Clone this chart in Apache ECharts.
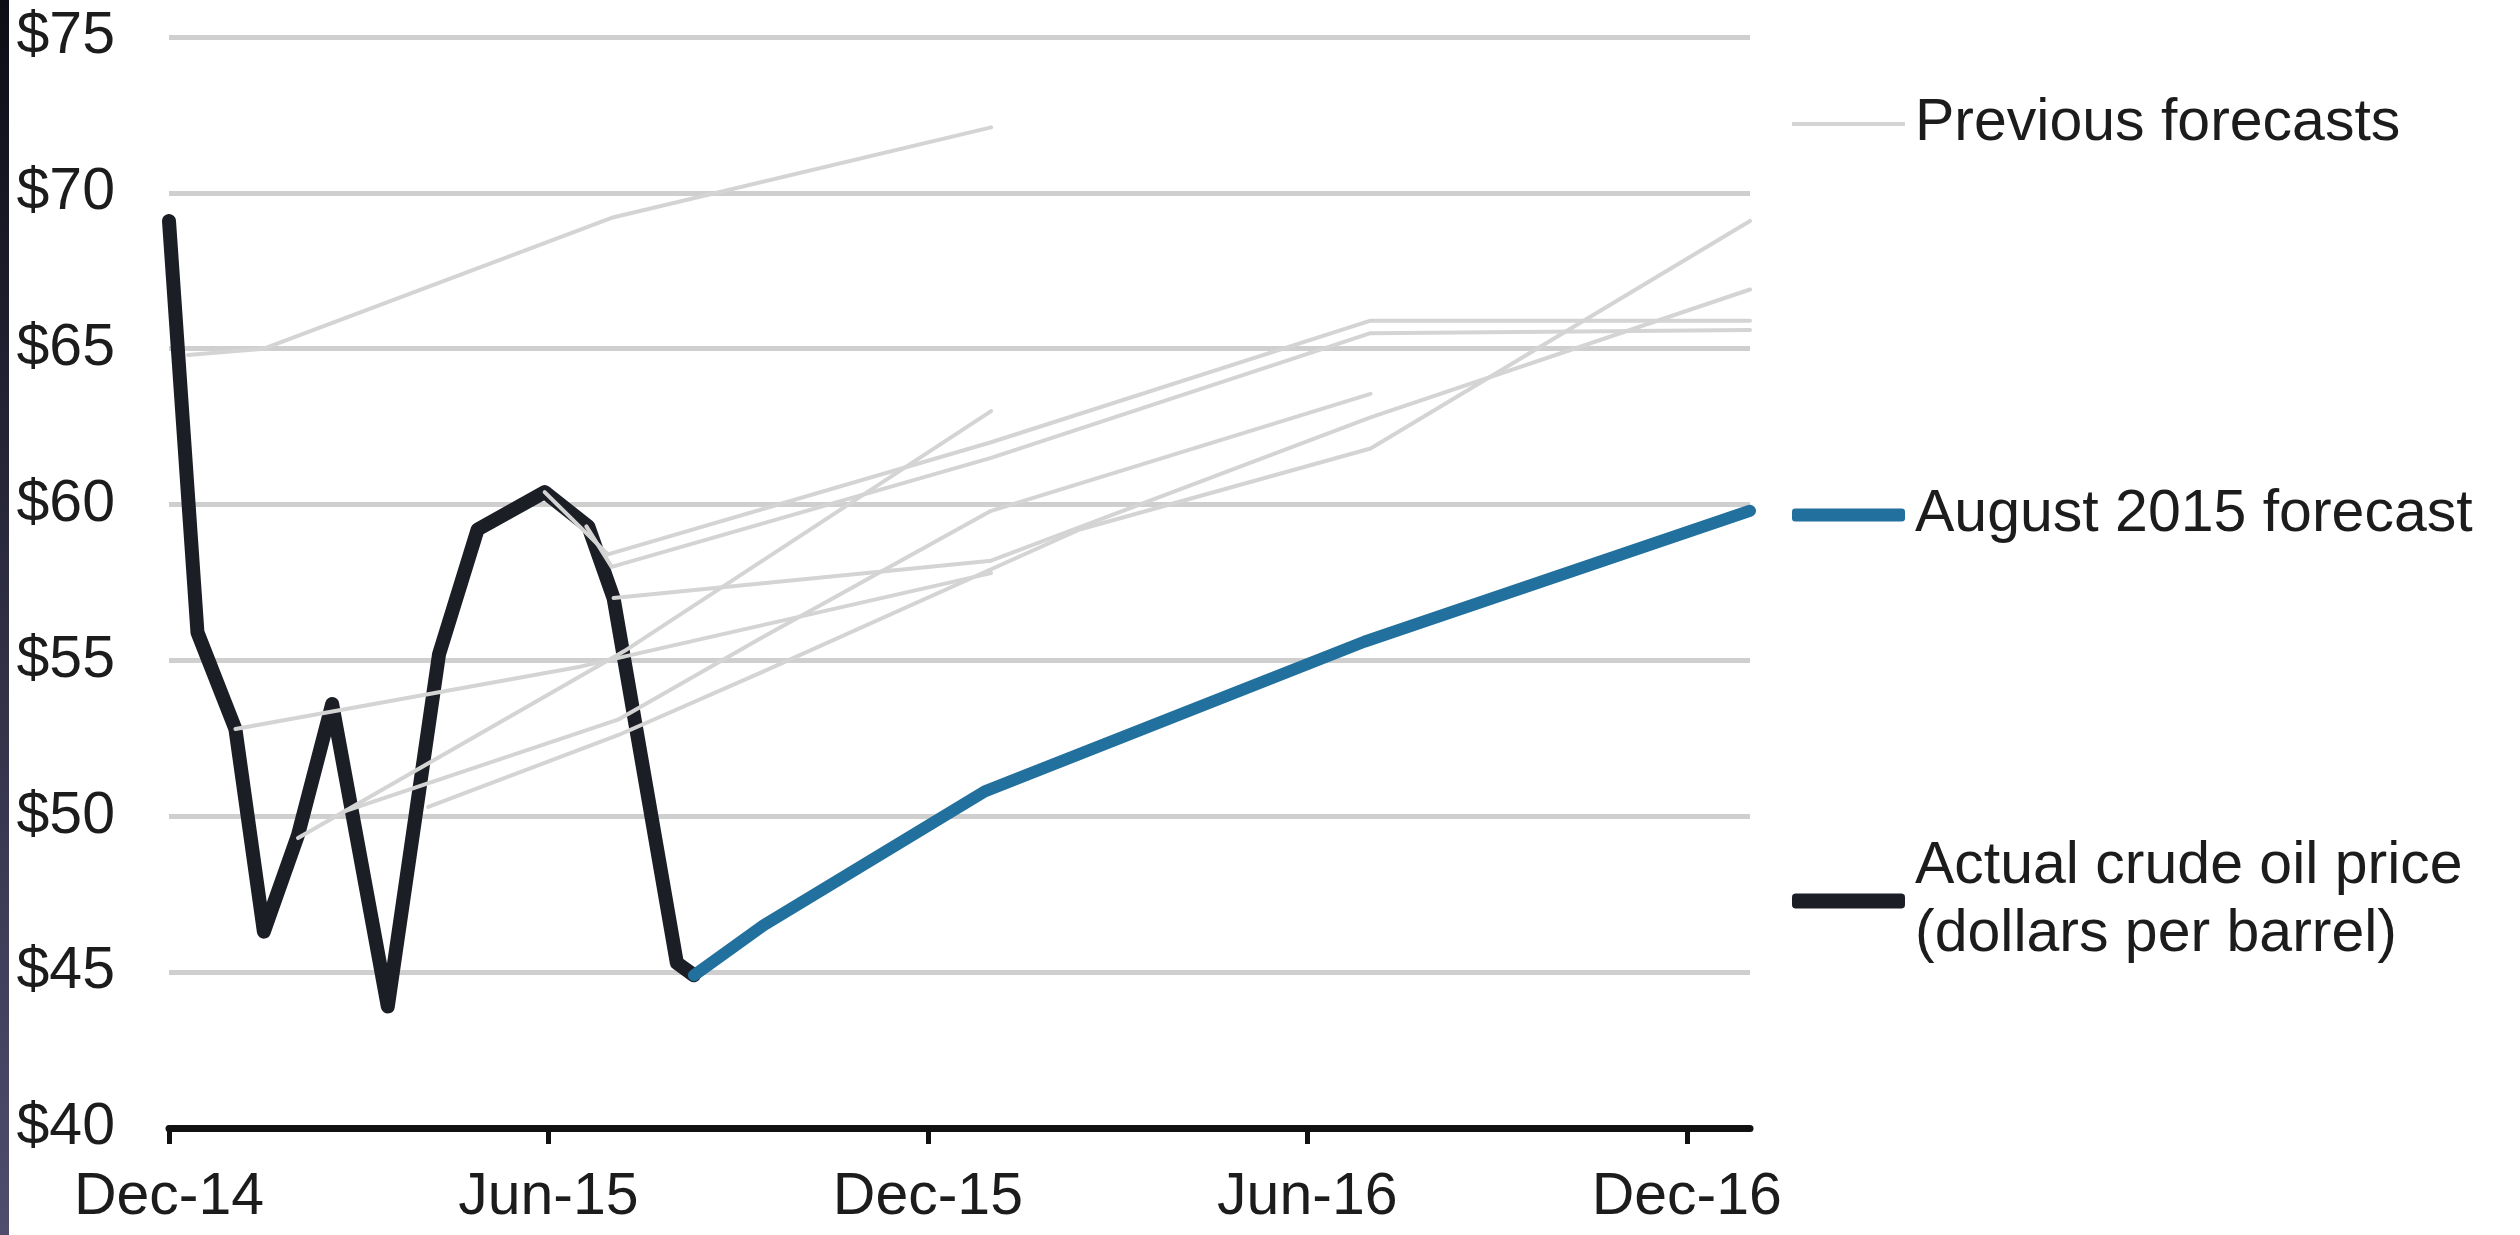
<!DOCTYPE html>
<html>
<head>
<meta charset="UTF-8">
<title>Crude oil price forecasts</title>
<script src="https://cdn.jsdelivr.net/npm/echarts@6/dist/echarts.min.js"></script>
<style>
  html, body { margin: 0; padding: 0; background: #fff; }
  #main { width: 2520px; height: 1235px; }
  .edge { position: absolute; left: 0; top: 0; width: 9px; height: 1235px; background: linear-gradient(#0d0d16, #4f4d6e); z-index: 2; }
</style>
</head>
<body>
<div class="edge"></div>
<div id="main"></div>
<script>
// x values are months counted from Dec-14
var tickMonths = [0, 6, 12, 18, 24];
var tickLabels = ['Dec-14', 'Jun-15', 'Dec-15', 'Jun-16', 'Dec-16'];

var actualMonths = [0, 0.45, 1.05, 1.5, 2.04, 2.58, 3.46, 4.27, 4.88, 5.94, 6.63, 7.03, 8.03, 8.3];
var actualPrices = [69.1, 55.9, 52.8, 46.3, 49.4, 53.6, 43.9, 55.2, 59.2, 60.4, 59.3, 57.0, 45.3, 44.9];

var augMonths = [8.3, 9.4, 12.9, 18.9, 25];
var augPrices = [44.9, 46.5, 50.8, 55.6, 59.8];

// previous forecasts, one row per forecast
var prevMonths = [
  [0.3, 1.5, 7, 13],
  [1.05, 6.5, 13],
  [2.04, 7.2, 13],
  [2.76, 7.1, 9.35, 13, 19],
  [4.1, 7.1, 9.35, 14.4, 19, 25],
  [7.03, 13, 19, 25],
  [5.94, 6.94, 13, 19, 25],
  [6.6, 7.0, 13, 19, 25]
];
var prevPrices = [
  [64.8, 65.0, 69.2, 72.1],
  [52.8, 54.8, 57.8],
  [49.3, 55.3, 63.0],
  [50.15, 53.1, 55.7, 59.8, 63.55],
  [50.3, 52.6, 54.6, 59.2, 61.8, 69.1],
  [57.0, 58.2, 62.8, 66.9],
  [60.4, 58.4, 62.0, 65.9, 65.9],
  [59.3, 58.0, 61.5, 65.5, 65.6]
];

var FONT = 'Liberation Sans, Arial, sans-serif';
var GREY = '#d4d4d4', BLACK = '#1b1e25', BLUE = '#21709d', INK = '#1c1c1c';

function pairs(xs, ys) {
  return xs.map(function (x, i) { return [x, ys[i]]; });
}

var series = [];
prevMonths.forEach(function (m, i) {
  series.push({
    name: 'Previous forecasts', type: 'line', data: pairs(m, prevPrices[i]),
    symbol: 'none', z: 3, color: GREY,
    lineStyle: { color: GREY, width: 4, cap: 'round', join: 'round' }
  });
});
series.push({
  name: 'Actual crude oil price', type: 'line', data: pairs(actualMonths, actualPrices),
  symbol: 'none', z: 2, color: BLACK,
  lineStyle: { color: BLACK, width: 14, cap: 'round', join: 'round' }
});
series.push({
  name: 'August 2015 forecast', type: 'line', data: pairs(augMonths, augPrices),
  symbol: 'none', z: 2, color: BLUE,
  lineStyle: { color: BLUE, width: 12, cap: 'round', join: 'round' }
});

var legendText = { fontSize: 59, color: INK, fontFamily: FONT, lineHeight: 66, padding: [0, 0, 0, 5] };

var chart = echarts.init(document.getElementById('main'));
chart.setOption({
  animation: false,
  backgroundColor: '#fff',
  grid: { left: 169, right: 770, top: 37, bottom: 107 },
  legend: [
    { data: ['Previous forecasts'], left: 1792, top: 91, padding: 0, selectedMode: false,
      icon: 'rect', itemWidth: 113, itemHeight: 4, textStyle: legendText },
    { data: ['August 2015 forecast'], left: 1792, top: 482, padding: 0, selectedMode: false,
      icon: 'roundRect', itemWidth: 113, itemHeight: 13, textStyle: legendText },
    { data: ['Actual crude oil price'], left: 1792, top: 799, padding: 0, selectedMode: false,
      icon: 'roundRect', itemWidth: 113, itemHeight: 15,
      formatter: function (name) { return name + '\n(dollars per barrel)'; },
      textStyle: { fontSize: 59, color: INK, fontFamily: FONT, lineHeight: 68, padding: [68, 0, 0, 5] } }
  ],
  xAxis: {
    type: 'value', min: 0, max: 25, interval: 6,
    axisLine: { lineStyle: { color: '#111', width: 7 } },
    axisTick: { show: true, length: 16, customValues: tickMonths, lineStyle: { color: '#111', width: 5 } },
    axisLabel: {
      customValues: tickMonths, margin: 40, fontSize: 59, color: INK, fontFamily: FONT,
      formatter: function (v) { var i = tickMonths.indexOf(v); return i < 0 ? '' : tickLabels[i]; }
    },
    splitLine: { show: false }
  },
  yAxis: {
    type: 'value', min: 40, max: 75, interval: 5,
    axisLine: { show: false }, axisTick: { show: false },
    axisLabel: { formatter: '${value}', margin: 54, fontSize: 59, color: INK, fontFamily: FONT },
    splitLine: { lineStyle: { color: '#cfcfcf', width: 5 } }
  },
  series: series
});
</script>
</body>
</html>
